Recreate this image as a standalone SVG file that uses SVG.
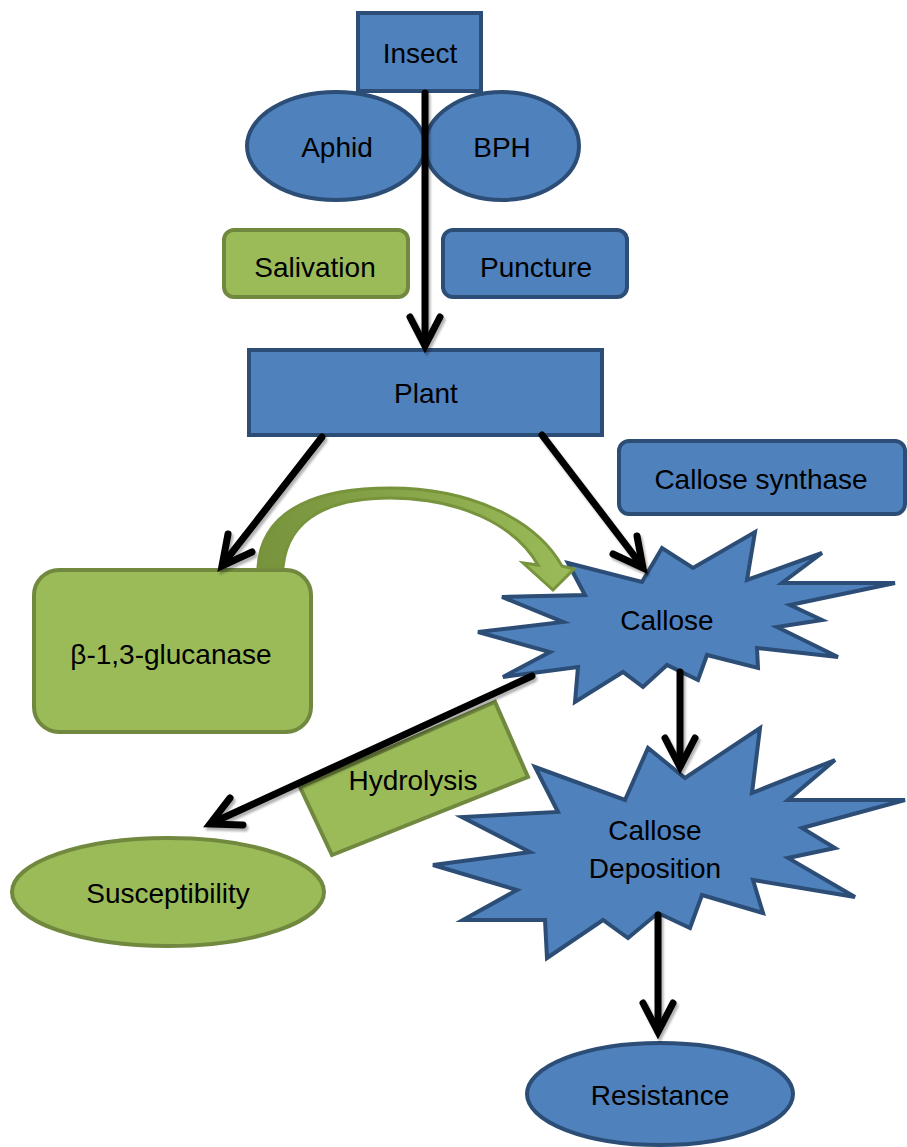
<svg xmlns="http://www.w3.org/2000/svg" width="907" height="1147" viewBox="0 0 907 1147">
<style>
.b{fill:#4F81BD;stroke:#2C4D75;stroke-width:4}
.g{fill:#9BBB59;stroke:#71893F;stroke-width:4}
.t{font-family:"Liberation Sans",Arial,sans-serif;font-size:28px;fill:#000;text-anchor:middle}
.c{fill:none;stroke:#000;stroke-width:7;stroke-linecap:round;stroke-linejoin:miter}
</style>
<defs>
<filter id="sh" x="-10%" y="-10%" width="120%" height="120%">
<feDropShadow dx="2" dy="3" stdDeviation="1.2" flood-color="#000" flood-opacity="0.3"/>
</filter>
<linearGradient id="ga" x1="0" y1="0" x2="1" y2="0">
<stop offset="0" stop-color="#77933C"/>
<stop offset="1" stop-color="#9BBB59"/>
</linearGradient>
</defs>
<rect width="907" height="1147" fill="#fff"/>
<g id="aphid"><ellipse class="b" cx="336" cy="146" rx="89" ry="54"/><text class="t" x="337" y="157">Aphid</text></g>
<g id="bph"><ellipse class="b" cx="502" cy="146" rx="77" ry="54"/><text class="t" x="502" y="157">BPH</text></g>
<g id="insect"><rect class="b" x="358" y="13" width="123" height="78"/><text class="t" x="420" y="63">Insect</text></g>
<g id="salivation"><rect class="g" x="224" y="230" width="184" height="67" rx="10"/><text class="t" x="315" y="277">Salivation</text></g>
<g id="puncture"><rect class="b" x="443" y="230" width="184" height="67" rx="10"/><text class="t" x="536" y="277">Puncture</text></g>
<g id="plant"><rect class="b" x="249" y="350" width="353" height="85"/><text class="t" x="426" y="403">Plant</text></g>
<g id="callose-synthase"><rect class="b" x="619" y="441" width="286" height="73" rx="10"/><text class="t" x="761" y="489">Callose synthase</text></g>
<g id="glucanase"><rect class="g" x="34" y="570" width="277" height="162" rx="25"/><text class="t" x="171" y="664">β-1,3-glucanase</text></g>
<g id="callose"><polygon class="b" points="568,563 642,582 662,548 693,568 755,532 747,580 822,553 782,583 895,583 790,605 822,620 777,627 838,657 757,648 758,668 707,655 698,680 667,665 643,687 623,672 575,702 578,667 503,677 550,652 478,632 563,622 502,597 585,595"/><text class="t" x="667" y="630">Callose</text></g>
<g id="hydrolysis"><polygon class="g" points="300,787 495,702 528,777 332,855"/><text class="t" x="413" y="790">Hydrolysis</text></g>
<g id="callose-deposition"><polygon class="b" points="535,767 625,800 648,748 685,778 760,728 752,793 835,760 788,800 905,800 802,828 835,848 788,858 855,897 753,880 763,913 702,895 690,928 658,913 628,938 603,920 547,958 545,920 463,920 517,890 433,865 530,852 462,817 558,812"/><text class="t" x="655" y="840">Callose</text><text class="t" x="655" y="878">Deposition</text></g>
<g id="susceptibility"><ellipse class="g" cx="168" cy="892" rx="156" ry="54"/><text class="t" x="168" y="903">Susceptibility</text></g>
<g id="resistance"><ellipse class="b" cx="660" cy="1094" rx="133" ry="51"/><text class="t" x="660" y="1105">Resistance</text></g>
<g id="connectors">
<g filter="url(#sh)">
<line class="c" x1="425" y1="93" x2="425" y2="345"/><polyline class="c" points="410,317 425,346 440,317"/>
<line class="c" x1="322" y1="437" x2="223" y2="564"/><polyline class="c" points="228,534 222,566 252,552"/>
<line class="c" x1="542" y1="435" x2="642" y2="566"/><polyline class="c" points="613,554 643,568 637,536"/>
<line class="c" x1="532" y1="676" x2="212" y2="823"/><polyline class="c" points="230,798 210,824 243,825"/>
<line class="c" x1="680" y1="672" x2="680" y2="766"/><polyline class="c" points="665,738 680,767 695,738"/>
<line class="c" x1="658" y1="915" x2="658" y2="1031"/><polyline class="c" points="643,1003 658,1032 673,1003"/>
</g>
<path d="M258,567 C262,505 325,488 390,488 C468,488 535,518 562,566 L574,569 L553,590 L523,563 L538,565 C515,525 460,498 390,498 C335,498 288,515 283,567 Z" fill="url(#ga)" stroke="#77933C" stroke-width="3" stroke-linejoin="miter"/>
</g>
</svg>
